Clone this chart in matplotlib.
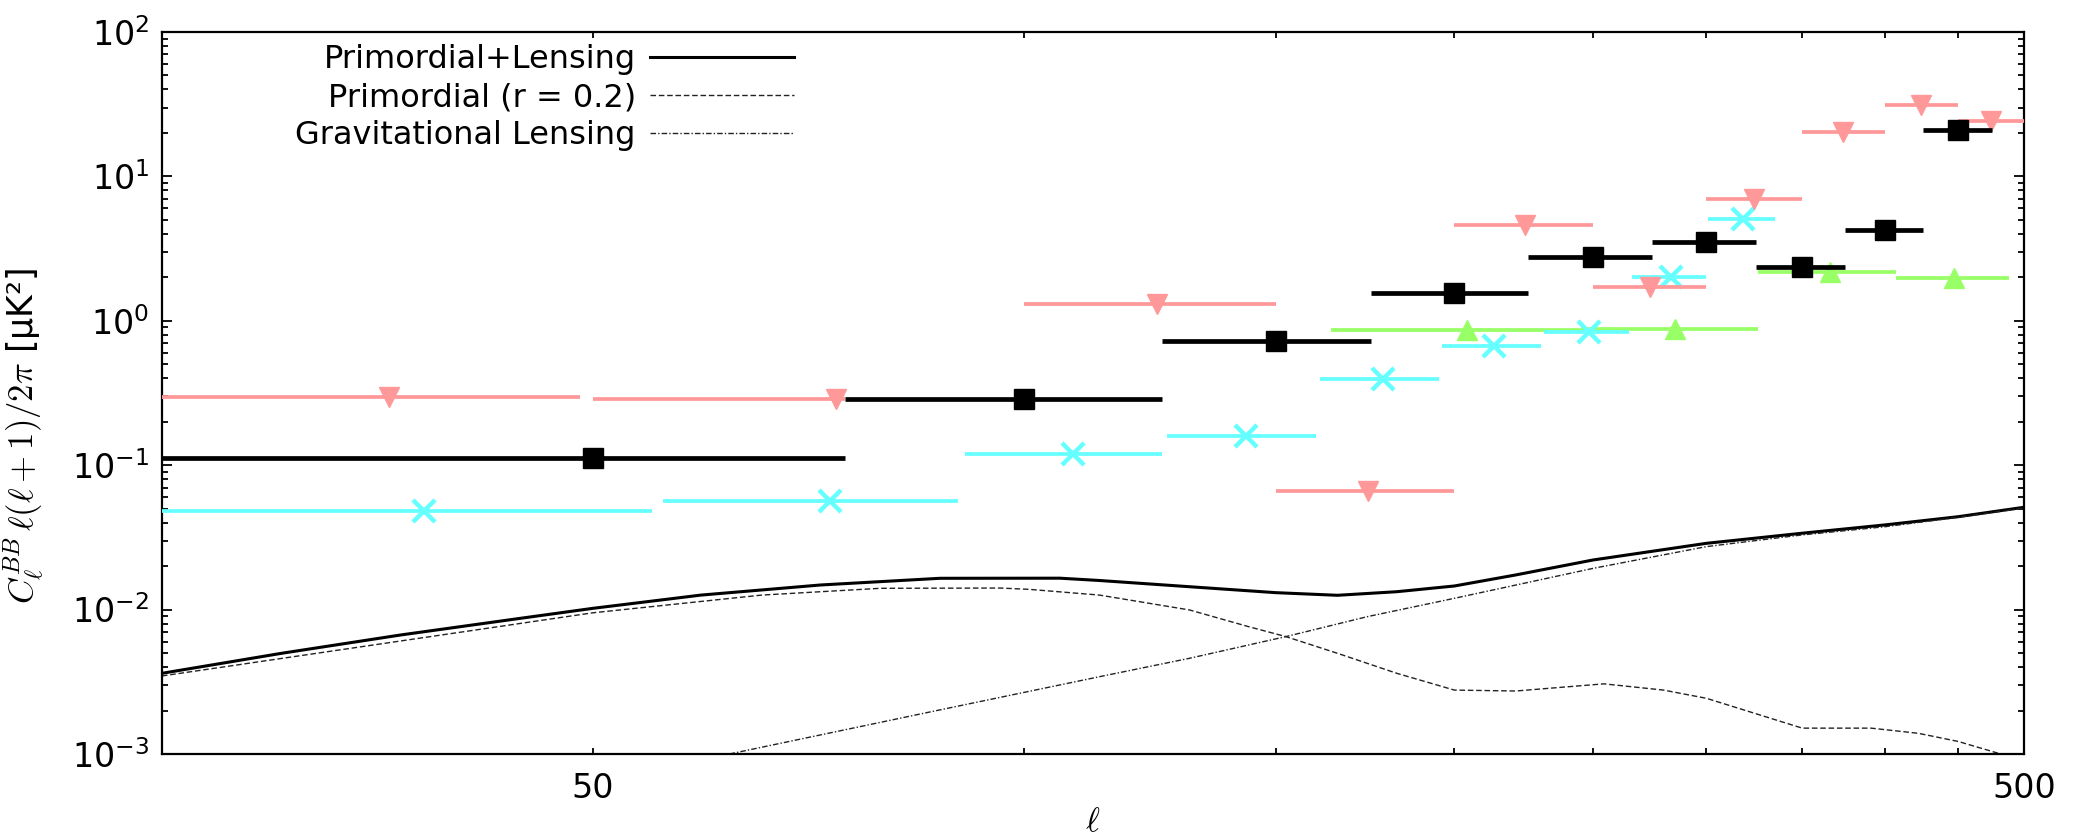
"""B-mode power spectrum: binned band powers over the r = 0.2 + lensing model."""
import matplotlib
matplotlib.use("Agg")
import matplotlib.pyplot as plt
from matplotlib.ticker import FixedLocator, FixedFormatter, NullLocator, LogLocator, NullFormatter

plt.rcParams["font.family"] = ["DejaVu Sans"]
plt.rcParams["mathtext.fontset"] = "cm"

# theory curves
tot_ell = [25, 30.3, 36.7, 44.5, 50, 59.5, 72.1, 87.4, 106, 113, 130.6, 150, 165.7,
           182.3, 200, 220.7, 250, 300, 350, 400, 450, 500]
tot_val = [0.00362, 0.00498, 0.00667, 0.0087, 0.0102, 0.0126, 0.0148, 0.01647, 0.0165,
           0.0159, 0.0144, 0.0131, 0.01256, 0.0133, 0.01457, 0.01737, 0.02206, 0.02877,
           0.0338, 0.0386, 0.044, 0.0511]
prim_ell = [25, 50, 65.6, 79.4, 96.3, 101, 113, 130.6, 143.6, 152.5, 165.7, 182.3, 200,
            220.7, 254.4, 280, 300, 350, 391, 422, 450, 480, 500]
prim_val = [0.00347, 0.0095, 0.0126, 0.01404, 0.0141, 0.0138, 0.0126, 0.00994, 0.00762,
            0.0065, 0.00498, 0.00362, 0.00277, 0.00273, 0.00306, 0.00277, 0.00243,
            0.00151, 0.00151, 0.00139, 0.00122, 0.00101, 0.00085]
lens_ell = [62.3, 87.4, 113, 130.6, 152.5, 173.9, 200, 220.7, 250, 300, 350, 400, 450, 500]
lens_val = [0.001, 0.00202, 0.00343, 0.0046, 0.0065, 0.00894, 0.01197, 0.01478, 0.0193,
            0.0273, 0.0329, 0.0375, 0.0436, 0.0505]

# binned band powers: centre, bin edges, value
black_ell = [50, 100, 150, 200, 250, 300, 350, 400, 450]
black_lo = [25, 75, 125, 175, 225, 275, 325, 375, 425]
black_hi = [75, 125, 175, 225, 275, 325, 375, 425, 475]
black_val = [0.112, 0.287, 0.72, 1.55, 2.75, 3.53, 2.35, 4.25, 21.0]

pink_ell = [36, 74, 124, 174, 224, 274, 324, 374, 424, 474]
pink_lo = [20, 50, 100, 150, 200, 250, 300, 350, 400, 450]
pink_hi = [49, 75, 150, 200, 250, 300, 350, 400, 450, 500]
pink_val = [0.298, 0.286, 1.30, 0.0666, 4.63, 1.71, 7.01, 20.3, 31.4, 24.3]

cyan_ell = [38.1, 73.2, 108.2, 143, 178.3, 213.3, 248.5, 283.5, 318.4]
cyan_lo = [21, 56, 91, 126, 161, 196, 231, 266, 301]
cyan_hi = [55, 90, 125, 160, 195, 230, 265, 300, 335]
cyan_val = [0.0482, 0.0568, 0.119, 0.160, 0.394, 0.669, 0.84, 2.02, 5.07]

green_ell = [204, 285, 366, 447]
green_lo = [164, 245, 326, 407]
green_hi = [245, 326, 407, 488]
green_val = [0.86, 0.88, 2.17, 1.97]

xtick_vals = [50, 100, 150, 200, 250, 300, 350, 400, 450, 500]
xtick_text = ["50", "", "", "", "", "", "", "", "", "500"]


def bandpowers(ax, ell, lo, hi, val, color, marker, ms, lw, z, mew=1.0):
    xerr = [[c - a for c, a in zip(ell, lo)], [b - c for c, b in zip(ell, hi)]]
    ax.errorbar(ell, val, xerr=xerr, fmt=marker, color=color, ms=ms, mew=mew,
                elinewidth=lw, capsize=0, zorder=z)


def main() -> None:
    fig = plt.figure(figsize=(20.82, 8.40), dpi=100)
    ax = fig.add_axes([0.0778, 0.1024, 0.8943, 0.8595])

    ax.plot(tot_ell, tot_val, color="black", lw=2.2, label="Primordial+Lensing", zorder=2)
    ax.plot(prim_ell, prim_val, color="#222222", lw=1.0, dashes=(4, 2),
            label="Primordial (r = 0.2)", zorder=2)
    ax.plot(lens_ell, lens_val, color="#222222", lw=1.0, dashes=(4, 1.5, 1, 1.5),
            label="Gravitational Lensing", zorder=2)

    bandpowers(ax, green_ell, green_lo, green_hi, green_val, "#99ff66", "^", 14, 2.7, 3)
    bandpowers(ax, cyan_ell, cyan_lo, cyan_hi, cyan_val, "#66ffff", "x", 16, 2.7, 4, mew=3.2)
    bandpowers(ax, pink_ell, pink_lo, pink_hi, pink_val, "#ff9999", "v", 14, 2.7, 5)
    bandpowers(ax, black_ell, black_lo, black_hi, black_val, "black", "s", 15, 3.4, 6)

    ax.set_xscale("log")
    ax.set_yscale("log")
    ax.set_xlim(25, 500)
    ax.set_ylim(1e-3, 1e2)

    ax.xaxis.set_major_locator(FixedLocator(xtick_vals))
    ax.xaxis.set_major_formatter(FixedFormatter(xtick_text))
    ax.xaxis.set_minor_locator(NullLocator())
    ax.yaxis.set_major_locator(LogLocator(base=10, numticks=10))
    ax.yaxis.set_minor_locator(LogLocator(base=10, subs=range(2, 10), numticks=10))
    ax.yaxis.set_minor_formatter(NullFormatter())

    ax.tick_params(axis="both", which="both", direction="in", top=True, right=True,
                   width=1.3, labelsize=24)
    ax.tick_params(axis="y", which="major", length=7.5, pad=9)
    ax.tick_params(axis="y", which="minor", length=4.5)
    ax.tick_params(axis="x", which="major", length=4.5, pad=13)
    for sp in ax.spines.values():
        sp.set_linewidth(1.6)

    ax.set_xlabel(r"$\ell$", fontsize=24, va="center")
    ax.xaxis.set_label_coords(0.5, -0.094)
    ax.set_ylabel(r"$C_\ell^{BB}\,\ell(\ell+1)/2\pi$ [μK²]", fontsize=25)
    ax.yaxis.set_label_coords(-0.062, 0.44)

    ax.legend(loc="upper right", bbox_to_anchor=(0.3394, 0.983), frameon=False,
              markerfirst=False, fontsize=23, handlelength=4.5, handletextpad=0.45,
              labelspacing=0.22, borderpad=0, borderaxespad=0)

    fig.savefig("out.png", dpi=100)
    plt.close(fig)


if __name__ == "__main__":
    main()
